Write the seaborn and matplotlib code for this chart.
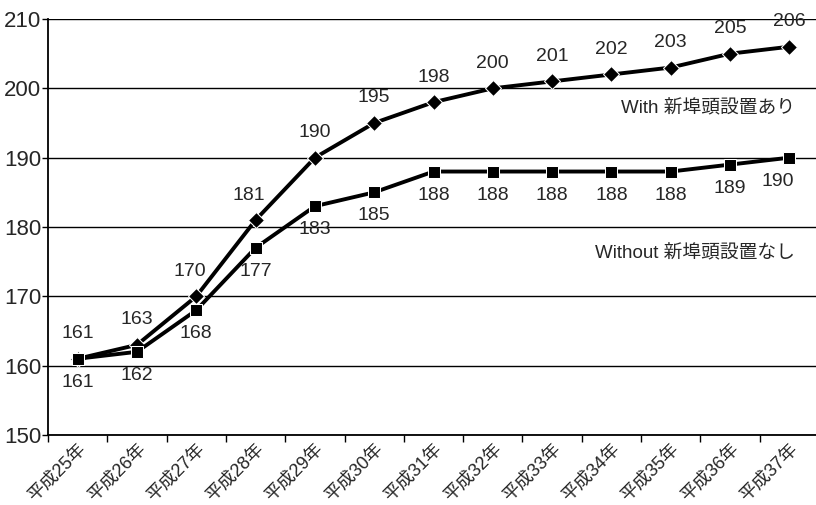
import matplotlib
matplotlib.use("Agg")
import matplotlib.pyplot as plt
import matplotlib.transforms as mtransforms
import seaborn as sns
import pandas as pd
import numpy as np

years = ["平成25年", "平成26年", "平成27年", "平成28年", "平成29年", "平成30年", "平成31年",
         "平成32年", "平成33年", "平成34年", "平成35年", "平成36年", "平成37年"]
with_pier = [161, 163, 170, 181, 190, 195, 198, 200, 201, 202, 203, 205, 206]
without_pier = [161, 162, 168, 177, 183, 185, 188, 188, 188, 188, 188, 189, 190]
series_names = ["With 新埠頭設置あり", "Without 新埠頭設置なし"]

sns.set_theme(style="white")
plt.rcParams["font.family"] = ["Liberation Sans", "Noto Sans CJK JP"]

df = pd.concat([
    pd.DataFrame({"year": years, "value": with_pier, "case": series_names[0]}),
    pd.DataFrame({"year": years, "value": without_pier, "case": series_names[1]}),
])

fig = plt.figure(figsize=(8.16, 5.05), dpi=100)
ax = fig.add_axes([48 / 816, 70 / 505, 771 / 816, 416 / 505])

sns.lineplot(data=df, x="year", y="value", style="case", hue="case",
             palette={series_names[0]: "black", series_names[1]: "black"},
             markers={series_names[0]: "D", series_names[1]: "s"},
             dashes=False, markersize=8.5, linewidth=2.8, sort=False,
             legend=False, ax=ax, zorder=3)

ax.set_xlim(-0.5, len(years) - 0.5)
ax.set_ylim(150, 210)
ax.set_yticks(range(150, 211, 10))
ax.yaxis.grid(True, color="black", linewidth=1.0)
ax.set_xlabel("")
ax.set_ylabel("")

for s in ["top", "right"]:
    ax.spines[s].set_visible(False)
for s in ["left", "bottom"]:
    ax.spines[s].set_color("black")
    ax.spines[s].set_linewidth(1.3)

ax.set_xticks(range(len(years)))
ax.set_xticklabels(years, rotation=45, ha="right", va="top",
                   rotation_mode="anchor", fontsize=13)
# nudge the rotated category labels slightly to the right
shift = mtransforms.ScaledTranslation(8 / 100, 0, fig.dpi_scale_trans)
for lbl in ax.get_xticklabels():
    lbl.set_transform(lbl.get_transform() + shift)
ax.set_xticks(np.arange(-0.5, len(years), 1.0), minor=True)
ax.tick_params(axis="x", which="major", length=0, pad=4)
ax.tick_params(axis="x", which="minor", length=5, width=1, color="black",
               direction="out", bottom=True)
ax.tick_params(axis="y", length=4, width=1, color="black", direction="out",
               left=True, labelsize=16, pad=1)

# value labels: above the "with" line, below the "without" line
for i, v in enumerate(with_pier):
    dx = -5 if i in (2, 3) else 0
    ax.annotate(str(v), (i, v), xytext=(dx, 18), textcoords="offset points",
                ha="center", va="center", fontsize=14)
for i, v in enumerate(without_pier):
    dx = -8 if i == len(years) - 1 else 0
    ax.annotate(str(v), (i, v), xytext=(dx, -17), textcoords="offset points",
                ha="center", va="center", fontsize=14)

ax.text(12.1, 197.0, series_names[0], ha="right", va="center", fontsize=13.5)
ax.text(12.1, 176.2, series_names[1], ha="right", va="center", fontsize=13.5)

fig.savefig("out.png", dpi=100)
